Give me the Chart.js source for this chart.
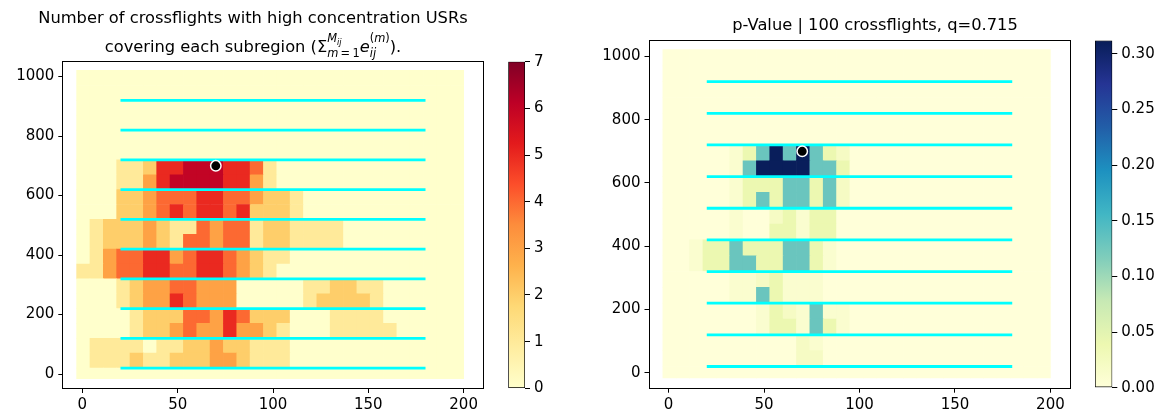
<!DOCTYPE html>
<html>
<head>
<meta charset="utf-8">
<script src="https://cdn.jsdelivr.net/npm/chart.js@4.4.1/dist/chart.umd.min.js"></script>
<style>
  html, body { margin: 0; padding: 0; background: #fff; }
  #wrap { position: relative; width: 1165px; height: 419px; overflow: hidden; }
  canvas { position: absolute; top: 0; }
</style>
</head>
<body>
<div id="wrap">
  <canvas id="countMap" width="580" height="419" style="left:0px"></canvas>
  <canvas id="countBar" width="70" height="419" style="left:490px"></canvas>
  <canvas id="pMap" width="585" height="419" style="left:580px"></canvas>
  <canvas id="pBar" width="85" height="419" style="left:1080px"></canvas>
</div>
<script>
// subregion grid: column centres and row edges
const cellX = [0.5, 7.5, 14.5, 21.5, 28.5, 35.5, 42.5, 49.5, 56.5, 63.5, 70.5, 77.5, 84.5, 91.5, 98.5,
               105.5, 112.5, 119.5, 126.5, 133.5, 140.5, 147.5, 154.5, 161.5, 168.5, 175.5, 182.5, 189.5, 196.5];
const rowEdges = [-16, 20, 70, 120, 170, 220, 270, 320, 370, 420, 470, 520, 570, 620, 670, 720, 770, 820, 870, 920, 970, 1021];

// crossflight tracks and source position
const flightY = [20, 120, 220, 320, 420, 520, 620, 720, 820, 920];
const flightX = [20, 180];
const sourceX = [70];
const sourceY = [700];

// number of crossflights per subregion, top row first (missing cells = 0)
const counts = [
  [], [], [], [], [], [],
  [0,0,0,1,1,2,5,5,6,6,6,5,5,4,1],
  [0,0,0,1,1,3,5,6,6,6,6,5,5,3,1],
  [0,0,0,2,2,3,4,4,4,5,5,4,4,3,2,2,1],
  [0,0,0,2,2,3,4,5,4,5,5,4,5,2,2,2,1],
  [0,1,2,2,2,3,2,1,1,4,3,4,4,1,2,2,1,1,1,1],
  [0,1,2,2,2,3,2,1,4,4,3,4,4,1,2,2,1,1,1,1],
  [0,1,3,4,4,5,5,3,4,5,5,4,3,2,1,1],
  [1,1,3,4,4,5,5,4,4,5,5,4,3,2,1],
  [0,0,0,1,2,3,3,4,4,3,3,3,0,0,0,0,0,1,1,2,2,1,1],
  [0,0,0,1,2,3,3,5,4,3,3,3,0,0,0,0,0,1,2,2,2,2,1],
  [0,0,0,0,1,2,2,2,4,4,3,5,4,2,2,2,0,0,0,1,1,1,1],
  [0,0,0,0,1,2,2,3,4,3,3,5,3,3,2,1,0,0,0,1,1,1,1,1],
  [0,1,1,1,1,0,1,1,2,2,3,2,2,1,1,1],
  [0,1,1,1,2,1,1,2,2,2,3,3,2,1,1,1],
  []
];

// p-value per subregion, top row first (missing cells = 0)
const pValues = [
  [], [], [], [], [], [],
  [0,0,0,0,0,0.01,0.04,0.13,0.31,0.13,0.31,0.13,0.04,0.02],
  [0,0,0,0,0,0.01,0.13,0.31,0.31,0.31,0.31,0.13,0.13,0.04],
  [0,0,0,0,0,0.01,0.04,0.04,0.04,0.13,0.13,0.04,0.13,0.02],
  [0,0,0,0,0,0.01,0.04,0.13,0.04,0.13,0.13,0.04,0.13,0.02],
  [0,0,0,0,0,0.01,0,0,0.02,0.04,0.01,0.04,0.04],
  [0,0,0,0,0,0.01,0,0,0.04,0.04,0.01,0.04,0.04],
  [0,0,0.01,0.04,0.04,0.13,0.04,0.04,0.04,0.13,0.13,0.04,0.01],
  [0,0,0.01,0.04,0.04,0.13,0.13,0.04,0.04,0.13,0.13,0.04,0.01],
  [0,0,0,0,0,0.01,0.01,0.02,0.04,0.01,0.01,0.01],
  [0,0,0,0,0,0.01,0.01,0.13,0.04,0.01,0.01,0.01],
  [0,0,0,0,0,0,0,0.01,0.04,0.02,0.01,0.13,0.01,0.01],
  [0,0,0,0,0,0,0,0.01,0.04,0.04,0.01,0.13,0.04,0.01],
  [0,0,0,0,0,0,0,0,0,0,0.02,0.01],
  [0,0,0,0,0,0,0,0,0,0,0.02,0.02],
  []
];

const xTicks = [0, 50, 100, 150, 200];
const yTicks = [0, 200, 400, 600, 800, 1000];
const countTicks = [0, 1, 2, 3, 4, 5, 6, 7];
const pTicks = [0, 0.05, 0.10, 0.15, 0.20, 0.25, 0.30];
const countMax = 7;
const pMax = 0.312;

const countTitle = 'Number of crossflights with high concentration USRs';
const pTitle = 'p-Value | 100 crossflights, q=0.715';

const YlOrRd = ['#ffffcc', '#ffeda0', '#fed976', '#feb24c', '#fd8d3c', '#fc4e2a', '#e31a1c', '#bd0026', '#800026'];
const YlGnBu = ['#ffffd9', '#edf8b1', '#c7e9b4', '#7fcdbb', '#41b6c4', '#1d91c0', '#225ea8', '#253494', '#081d58'];

const FONT = 'DejaVu Sans';
const tickFont = { family: FONT, size: 15 };
const TITLE_PX = 16.3;

function hexRgb(c) { return [1, 3, 5].map(i => parseInt(c.slice(i, i + 2), 16)); }
function colormap(stops, t) {
  t = Math.min(1, Math.max(0, t)) * (stops.length - 1);
  const i = Math.min(Math.floor(t), stops.length - 2), f = t - i;
  const a = hexRgb(stops[i]), b = hexRgb(stops[i + 1]);
  return 'rgb(' + a.map((v, k) => Math.round(v + (b[k] - v) * f)).join(',') + ')';
}

function cells(grid) {
  const out = [];
  const nRows = rowEdges.length - 1;
  for (let ri = 0; ri < nRows; ri++) {
    const r = nRows - 1 - ri;
    const row = grid[ri] || [];
    cellX.forEach((x, c) => out.push({ x: x, y: [rowEdges[r], rowEdges[r + 1]], v: row[c] || 0 }));
  }
  return out;
}

// title text runs (with math sub/superscripts)
function fontOf(it) { return (it.i ? 'italic ' : '') + (TITLE_PX * (it.s || 1)) + 'px "' + FONT + '"'; }
function runWidth(ctx, items) {
  let w = 0;
  for (const it of items) {
    if (it.stack) w += Math.max(...it.stack.map(s => runWidth(ctx, s.items)));
    else { ctx.font = fontOf(it); w += ctx.measureText(it.t).width; }
  }
  return w;
}
function drawRun(ctx, items, x, y) {
  for (const it of items) {
    if (it.stack) {
      const w = Math.max(...it.stack.map(s => runWidth(ctx, s.items)));
      it.stack.forEach(s => drawRun(ctx, s.items, x, y + s.dy));
      x += w;
    } else {
      ctx.font = fontOf(it);
      ctx.fillText(it.t, x, y + (it.dy || 0));
      x += ctx.measureText(it.t).width;
    }
  }
}
const titlePlugin = {
  id: 'panelTitle',
  afterDraw(chart, args, opts) {
    const { ctx } = chart;
    ctx.save();
    ctx.fillStyle = '#000';
    ctx.textBaseline = 'alphabetic';
    ctx.textAlign = 'left';
    opts.lines.forEach(line => {
      const w = runWidth(ctx, line.items);
      drawRun(ctx, line.items, opts.center - w / 2, line.baseline);
    });
    ctx.restore();
  }
};
const framePlugin = {
  id: 'frame',
  afterDraw(chart) {
    const { ctx, chartArea: a } = chart;
    const l = Math.round(a.left) - 0.5, t = Math.round(a.top) - 0.5;
    const r = Math.round(a.right) + 0.5, b = Math.round(a.bottom) + 0.5;
    ctx.save();
    ctx.strokeStyle = '#000';
    ctx.lineWidth = 1;
    ctx.strokeRect(l, t, r - l, b - t);
    ctx.restore();
  }
};

const tickGrid = { display: true, drawOnChartArea: false, drawTicks: true, tickLength: 5, tickColor: '#000', tickWidth: 1, offset: false };

function heatmap(id, grid, stops, vmax, pad, yWidth, xHeight, title) {
  return new Chart(document.getElementById(id), {
    type: 'bar',
    data: {
      datasets: [
        {
          type: 'scatter',
          data: sourceX.map((x, i) => ({ x: x, y: sourceY[i] })),
          pointRadius: 5.2,
          pointBackgroundColor: '#000',
          pointBorderColor: '#fff',
          pointBorderWidth: 1.5,
          order: 0
        },
        ...flightY.map(y => ({
          type: 'line',
          data: flightX.map(x => ({ x: x, y: y })),
          borderColor: '#00ffff',
          borderWidth: 2.8,
          pointRadius: 0,
          order: 1
        })),
        {
          data: cells(grid),
          backgroundColor: c => colormap(stops, (c.raw ? c.raw.v : 0) / vmax),
          borderWidth: 0,
          barPercentage: 1,
          categoryPercentage: 1,
          order: 2
        }
      ]
    },
    options: {
      responsive: false,
      animation: false,
      devicePixelRatio: 1,
      layout: { padding: pad },
      events: [],
      plugins: {
        legend: { display: false },
        tooltip: { enabled: false },
        panelTitle: title
      },
      scales: {
        x: {
          type: 'linear', min: -10, max: 210, offset: false,
          afterBuildTicks: s => { s.ticks = xTicks.map(v => ({ value: v })); },
          afterFit: s => { s.height = xHeight; },
          grid: tickGrid,
          border: { display: false },
          ticks: { color: '#000', font: tickFont, padding: 3, maxRotation: 0, autoSkip: false, callback: v => String(v) }
        },
        y: {
          type: 'linear', min: -47, max: 1050,
          afterBuildTicks: s => { s.ticks = yTicks.map(v => ({ value: v })); },
          afterFit: s => { s.width = yWidth; },
          grid: tickGrid,
          border: { display: false },
          ticks: { color: '#000', font: tickFont, padding: 4, autoSkip: false, callback: v => String(v) }
        }
      }
    },
    plugins: [titlePlugin, framePlugin]
  });
}

function colorbar(id, stops, vmax, ticks, fmt, pad, yWidth) {
  return new Chart(document.getElementById(id), {
    type: 'bar',
    data: {
      labels: [''],
      datasets: [{
        data: [[0, vmax]],
        backgroundColor: c => {
          const area = c.chart.chartArea;
          if (!area) return stops[0];
          const g = c.chart.ctx.createLinearGradient(0, area.bottom, 0, area.top);
          stops.forEach((col, i) => g.addColorStop(i / (stops.length - 1), col));
          return g;
        },
        borderColor: '#000',
        borderWidth: 1,
        borderSkipped: false,
        barPercentage: 1,
        categoryPercentage: 1
      }]
    },
    options: {
      responsive: false,
      animation: false,
      devicePixelRatio: 1,
      events: [],
      layout: { padding: pad },
      plugins: { legend: { display: false }, tooltip: { enabled: false } },
      scales: {
        x: { display: false },
        y: {
          position: 'right', min: 0, max: vmax,
          afterBuildTicks: s => { s.ticks = ticks.map(v => ({ value: v })); },
          afterFit: s => { s.width = yWidth; },
          grid: tickGrid,
          border: { display: false },
          ticks: { color: '#000', font: tickFont, padding: 4, autoSkip: false, callback: fmt }
        }
      }
    }
  });
}

const countMath = [
  { t: 'covering each subregion (' },
  { t: '\u03a3' },
  { stack: [
    { dy: -10, items: [{ t: 'M', i: true, s: 0.7 }, { t: 'ij', i: true, s: 0.5, dy: 3 }] },
    { dy: 5.5, items: [{ t: 'm', i: true, s: 0.7 }, { t: '\u2009=\u20091', s: 0.7 }] }
  ] },
  { t: 'e', i: true },
  { stack: [
    { dy: -9.5, items: [{ t: '(', s: 0.7 }, { t: 'm', i: true, s: 0.7 }, { t: ')', s: 0.7 }] },
    { dy: 5.5, items: [{ t: 'ij', i: true, s: 0.7 }] }
  ] },
  { t: ').' }
];

heatmap('countMap', counts, YlOrRd, countMax,
  { top: 61.7, right: 97.3, left: 0, bottom: 0 }, 63.3, 31,
  { center: 253, lines: [{ baseline: 22.5, items: [{ t: countTitle }] }, { baseline: 51.5, items: countMath }] });
colorbar('countBar', YlOrRd, countMax, countTicks, v => String(v),
  { top: 61.7, bottom: 30.7, left: 18.3, right: 0 }, 35);

heatmap('pMap', pValues, YlGnBu, pMax,
  { top: 40.5, right: 95.5, left: 0, bottom: 0 }, 69.5, 31.3,
  { center: 295, lines: [{ baseline: 29.5, items: [{ t: pTitle }] }] });
colorbar('pBar', YlGnBu, pMax, pTicks, v => Number(v).toFixed(2),
  { top: 40.5, bottom: 31.3, left: 15, right: 0 }, 52.7);
</script>
</body>
</html>
